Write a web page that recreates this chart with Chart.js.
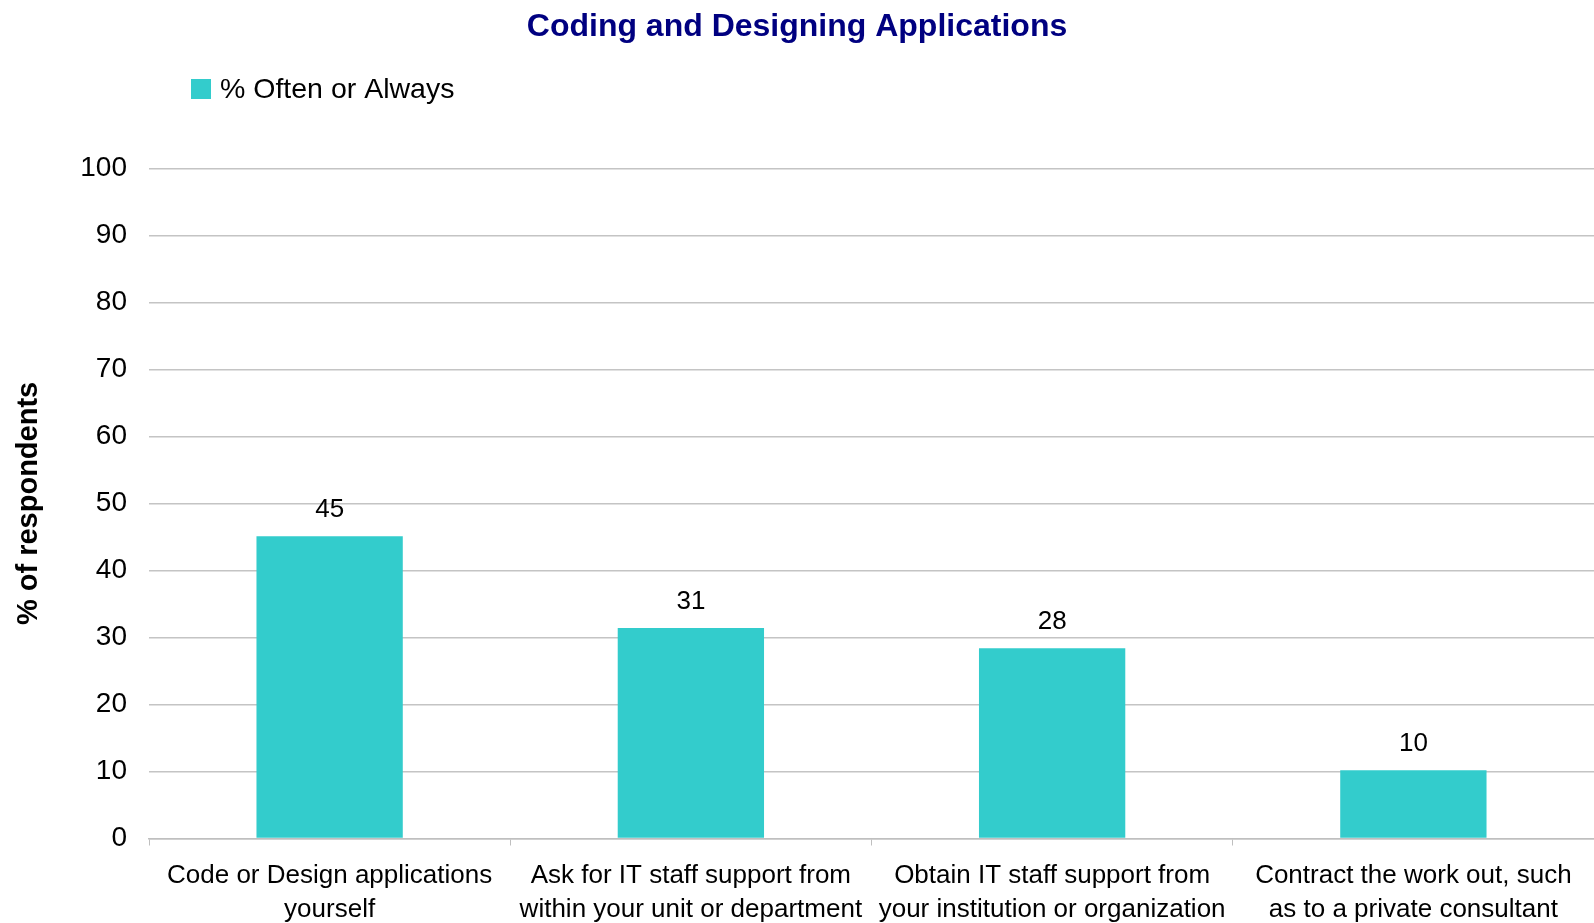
<!DOCTYPE html>
<html lang="en">
<head>
<meta charset="UTF-8">
<title>Coding and Designing Applications</title>
<script src="https://cdn.jsdelivr.net/npm/chart.js"></script>
<style>
  html, body { margin: 0; padding: 0; background: #fff; }
  #wrap { width: 1594px; height: 923px; }
</style>
</head>
<body>
<div id="wrap"><canvas id="grafico"></canvas></div>
<script>
  // dados
  var categorias = [
    ['Code or Design applications', 'yourself'],
    ['Ask for IT staff support from', 'within your unit or department'],
    ['Obtain IT staff support from', 'your institution or organization'],
    ['Contract the work out, such', 'as to a private consultant']
  ];
  var valores = [45.1, 31.4, 28.4, 10.2];
  var nomeSerie = '% Often or Always';
  var ticksY = [0, 10, 20, 30, 40, 50, 60, 70, 80, 90, 100];

  var fonte = '"Liberation Sans", Arial, sans-serif';
  var corBarra = '#33CCCC';

  // rotulos em cima das barras + legenda desenhada a mao
  var extras = {
    id: 'extras',
    afterDatasetsDraw: function (chart) {
      var ctx = chart.ctx;
      var meta = chart.getDatasetMeta(0);
      ctx.save();
      ctx.font = '26px ' + fonte;
      ctx.fillStyle = '#000';
      ctx.textAlign = 'center';
      ctx.textBaseline = 'middle';
      meta.data.forEach(function (bar, i) {
        ctx.fillText(Math.round(valores[i]), bar.x, bar.y - 26);
      });
      // legenda
      ctx.fillStyle = corBarra;
      ctx.fillRect(191, 79, 20, 20);
      ctx.fillStyle = '#000';
      ctx.textAlign = 'left';
      ctx.font = '28.5px ' + fonte;
      ctx.fillText(chart.data.datasets[0].label, 220, 90);
      ctx.restore();
    }
  };

  var ctx = document.getElementById('grafico').getContext('2d');
  var grafico = new Chart(ctx, {
    type: 'bar',
    data: {
      labels: categorias,
      datasets: [{
        label: nomeSerie,
        data: valores,
        backgroundColor: corBarra,
        borderWidth: 0,
        categoryPercentage: 1,
        barPercentage: 0.405
      }]
    },
    options: {
      responsive: true,
      maintainAspectRatio: false,
      animation: false,
      layout: { padding: { top: 0, right: 0, bottom: 0, left: 0 } },
      plugins: {
        legend: { display: false },
        tooltip: { enabled: false },
        title: {
          display: true,
          text: 'Coding and Designing Applications',
          color: '#000080',
          font: { family: fonte, size: 32, weight: 'bold' },
          padding: { top: 8, bottom: 122 }
        }
      },
      scales: {
        x: {
          grid: {
            drawOnChartArea: false,
            drawTicks: true,
            tickLength: 7,
            color: '#bfbfbf',
            offset: true
          },
          border: { display: true, color: '#bfbfbf', width: 1.5 },
          ticks: {
            color: '#000',
            padding: 14,
            maxRotation: 0,
            autoSkip: false,
            font: { family: fonte, size: 26, lineHeight: 1.29 }
          },
          afterFit: function (scale) { scale.height = 84.5; }
        },
        y: {
          min: 0,
          max: 100,
          afterBuildTicks: function (scale) {
            scale.ticks = ticksY.map(function (v) { return { value: v }; });
          },
          grid: {
            color: '#c4c4c4',
            lineWidth: 1.5,
            drawTicks: false
          },
          border: { display: false },
          ticks: {
            color: '#000',
            padding: 22,
            font: { family: fonte, size: 28 }
          },
          title: {
            display: true,
            text: '% of respondents',
            color: '#000',
            font: { family: fonte, size: 29, weight: 'bold' },
            padding: { top: 12, bottom: 0 }
          },
          afterFit: function (scale) { scale.width = 149; }
        }
      }
    },
    plugins: [extras]
  });
</script>
</body>
</html>
